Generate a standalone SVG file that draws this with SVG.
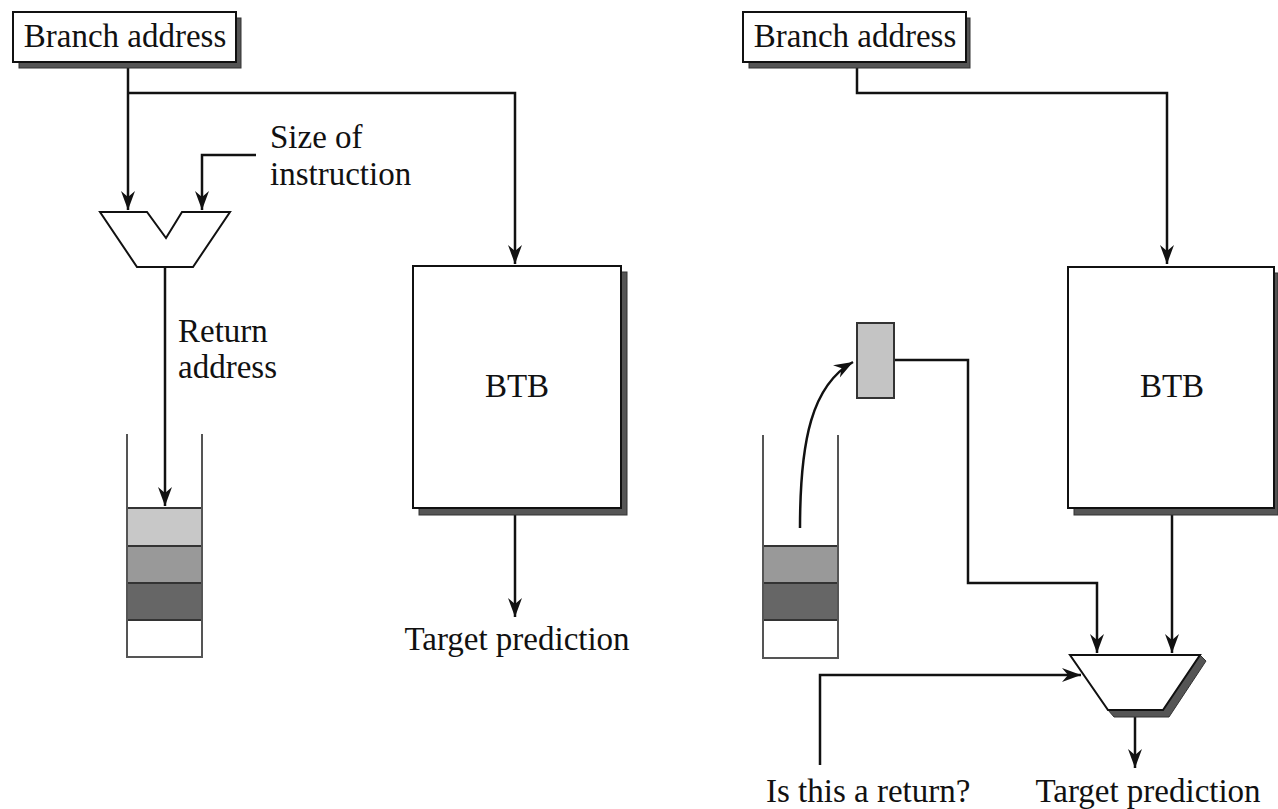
<svg xmlns="http://www.w3.org/2000/svg" width="1278" height="809" viewBox="0 0 1278 809">
<style>
text{font-family:"Liberation Serif","Times New Roman",serif;font-size:33px;fill:#111}
.ln{fill:none;stroke:#111;stroke-width:2.5}
.box{fill:#fff;stroke:#111;stroke-width:2}
.sh{fill:#555;stroke:#333;stroke-width:1}
.stk{fill:none;stroke:#555;stroke-width:2}
</style>
<defs>
<marker id="ah" markerUnits="userSpaceOnUse" markerWidth="22" markerHeight="16" viewBox="-20 -8 22 16" refX="0" refY="0" orient="auto">
<path d="M0,0 L-19,-7 L-13,0 L-19,7 z" fill="#111"/>
</marker>
</defs>
<g id="connectors">
<path class="ln" d="M128,62 V210" marker-end="url(#ah)"/>
<path class="ln" d="M128,93 H515 V264" marker-end="url(#ah)"/>
<path class="ln" d="M256,155 H202 V210" marker-end="url(#ah)"/>
<path class="ln" d="M165,267 V506" marker-end="url(#ah)"/>
<path class="ln" d="M515,508 V617" marker-end="url(#ah)"/>
<path class="ln" d="M857,62 V93 H1167 V264" marker-end="url(#ah)"/>
<path class="ln" d="M1172,508 V653" marker-end="url(#ah)"/>
<path class="ln" d="M894,360 H968 V583 H1097 V653" marker-end="url(#ah)"/>
<path class="ln" d="M820,765 V675 H1081" marker-end="url(#ah)"/>
<path class="ln" d="M1135,710 V768" marker-end="url(#ah)"/>
<path class="ln" d="M800,528 C800,440 812,385 853,362" marker-end="url(#ah)"/>
</g>
<g id="branch-left">
<rect class="sh" x="19" y="18" width="222" height="50"/>
<rect class="box" x="13" y="12" width="223" height="50"/>
<text x="125" y="47" text-anchor="middle">Branch address</text>
</g>
<g id="size-label">
<text x="270" y="148">Size of</text>
<text x="270" y="185">instruction</text>
</g>
<g id="adder">
<polygon class="box" points="100,212 147,212 166,238 182,212 230,212 193,267 137,267"/>
</g>
<g id="return-label">
<text x="178" y="342">Return</text>
<text x="178" y="378">address</text>
</g>
<g id="stack-left">
<rect x="127" y="508" width="75" height="38" fill="#c8c8c8" stroke="#333" stroke-width="2"/>
<rect x="127" y="546" width="75" height="37" fill="#999" stroke="#333" stroke-width="2"/>
<rect x="127" y="583" width="75" height="37" fill="#666" stroke="#333" stroke-width="2"/>
<path class="stk" d="M127,434 V657 H202 V434"/>
</g>
<g id="btb-left">
<rect class="sh" x="419" y="272" width="208" height="243"/>
<rect class="box" x="413" y="266" width="208" height="242"/>
<text x="517" y="397" text-anchor="middle">BTB</text>
</g>
<g id="target-left">
<text x="517" y="650" text-anchor="middle">Target prediction</text>
</g>
<g id="branch-right">
<rect class="sh" x="749" y="18" width="221" height="50"/>
<rect class="box" x="743" y="12" width="223" height="50"/>
<text x="855" y="47" text-anchor="middle">Branch address</text>
</g>
<g id="btb-right">
<rect class="sh" x="1074" y="273" width="204" height="242"/>
<rect class="box" x="1068" y="267" width="206" height="241"/>
<text x="1172" y="397" text-anchor="middle">BTB</text>
</g>
<g id="reg">
<rect x="857" y="323" width="37" height="75" fill="#c4c4c4" stroke="#333" stroke-width="2"/>
</g>
<g id="stack-right">
<rect x="763" y="546" width="75" height="37" fill="#999" stroke="#333" stroke-width="2"/>
<rect x="763" y="583" width="75" height="37" fill="#666" stroke="#333" stroke-width="2"/>
<path class="stk" d="M763,435 V658 H838 V435"/>
</g>
<g id="mux">
<polygon class="sh" points="1200,655 1206,661 1169,717 1114,717 1108,710"/>
<polygon class="box" points="1070,655 1200,655 1163,710 1108,710"/>
</g>
<g id="labels-bottom">
<text x="766" y="802">Is this a return?</text>
<text x="1148" y="802" text-anchor="middle">Target prediction</text>
</g>
</svg>
